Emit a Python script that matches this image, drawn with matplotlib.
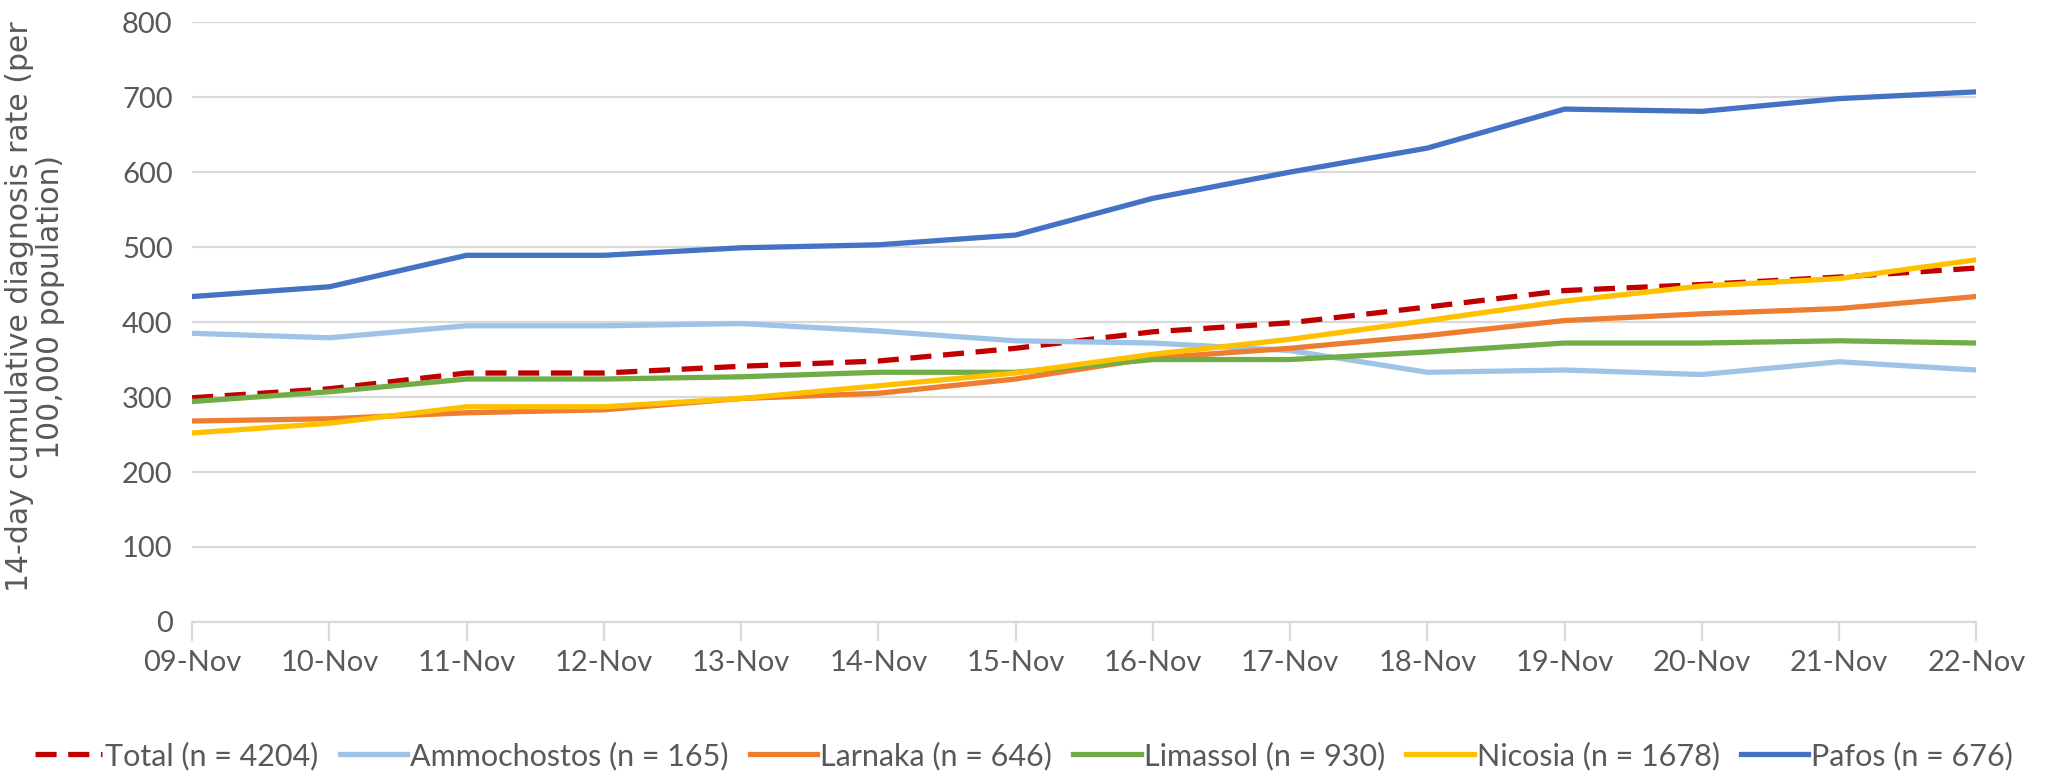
import matplotlib
matplotlib.use("Agg")
import matplotlib.pyplot as plt

dates = ["09-Nov", "10-Nov", "11-Nov", "12-Nov", "13-Nov", "14-Nov", "15-Nov",
         "16-Nov", "17-Nov", "18-Nov", "19-Nov", "20-Nov", "21-Nov", "22-Nov"]
total = [299, 311, 332, 332, 341, 348, 365, 387, 399, 420, 442, 450, 460, 472]
ammochostos = [385, 379, 395, 395, 398, 388, 375, 372, 362, 333, 336, 330, 347, 336]
larnaka = [268, 271, 279, 283, 298, 305, 324, 352, 365, 382, 402, 411, 418, 434]
limassol = [294, 307, 324, 324, 327, 333, 333, 350, 350, 360, 372, 372, 375, 372]
nicosia = [252, 265, 287, 287, 298, 315, 332, 357, 377, 402, 428, 448, 458, 483]
pafos = [434, 447, 489, 489, 499, 503, 516, 565, 600, 632, 684, 681, 698, 707]

labels = ["Total (n = 4204)", "Ammochostos (n = 165)", "Larnaka (n = 646)",
          "Limassol (n = 930)", "Nicosia (n = 1678)", "Pafos (n = 676)"]
colors = ["#C00000", "#9DC3E6", "#ED7D31", "#70AD47", "#FFC000", "#4472C4"]
series = [total, ammochostos, larnaka, limassol, nicosia, pafos]

fig = plt.figure(figsize=(20.48, 7.76), dpi=100)
ax = fig.add_axes([0.0938, 0.1985, 0.8712, 0.773])

x = list(range(len(dates)))
for i, (vals, lab, col) in enumerate(zip(series, labels, colors)):
    if i == 0:
        ax.plot(x, vals, color=col, lw=3.8, ls=(0, (4, 2.2)), label=lab, zorder=3)
    else:
        ax.plot(x, vals, color=col, lw=3.8, label=lab, zorder=3 + i)

ax.set_xlim(0, len(dates) - 1)
ax.set_ylim(0, 800)
ax.set_yticks(range(0, 801, 100))
ax.set_xticks(x)
ax.set_xticklabels(dates)
ax.grid(axis="y", color="#D9D9D9", lw=1.6, zorder=0)
for s in ["top", "right", "left"]:
    ax.spines[s].set_visible(False)
ax.spines["bottom"].set_color("#D9D9D9")
ax.spines["bottom"].set_linewidth(1.6)
ax.tick_params(axis="x", length=14, width=1.6, color="#D9D9D9", pad=6,
               labelsize=21, labelcolor="#595959")
ax.tick_params(axis="y", length=0, pad=14, labelsize=21, labelcolor="#595959")
for t in ax.get_xticklabels() + ax.get_yticklabels():
    t.set_fontfamily("Lato")

ax.set_ylabel("14-day cumulative diagnosis rate (per\n100,000 population)",
              fontsize=21.5, color="#595959", family="DejaVu Sans",
              linespacing=1.1)
ax.yaxis.set_label_coords(-0.071, 0.525)

leg = fig.legend(loc="center", bbox_to_anchor=(0.5, 0.026), ncol=6, frameon=False,
                 handlelength=2.2, columnspacing=0.7, handletextpad=0.1,
                 prop={"family": "Lato", "size": 22})
for t in leg.get_texts():
    t.set_color("#595959")

fig.savefig("out.png", dpi=100)
